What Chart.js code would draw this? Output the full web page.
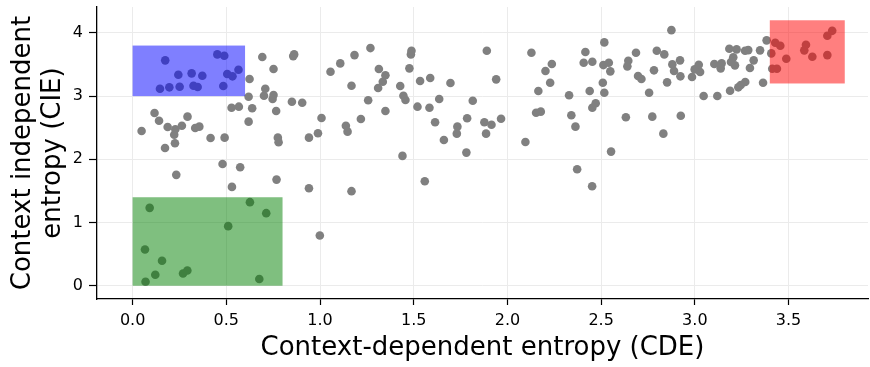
<!DOCTYPE html>
<html>
<head>
<meta charset="utf-8">
<script src="https://cdn.jsdelivr.net/npm/chart.js@4.4.1/dist/chart.umd.min.js"></script>
<style>
  html, body { margin: 0; padding: 0; background: #ffffff; }
  #wrap { width: 870px; height: 367px; }
</style>
</head>
<body>
<div id="wrap"><canvas id="chart" width="870" height="367"></canvas></div>
<script>
// Context-dependent entropy (CDE) per item
const cde = [
  0.174, 0.244, 0.315, 0.372, 0.325, 0.347, 0.251, 0.196, 0.146, 0.452,
  0.489, 0.505, 0.533, 0.565, 0.484, 0.692, 0.752, 0.624, 0.857, 0.862,
  1.056, 1.108, 1.184, 1.269, 1.314, 1.335, 1.349, 1.310, 1.168, 0.619,
  0.708, 0.701, 0.752, 0.747, 0.528, 0.567, 0.638, 0.766, 0.850, 0.905,
  0.619, 1.008, 1.257, 1.218, 1.349, 0.117, 0.141, 0.293, 0.263, 0.187,
  0.228, 0.334, 0.356, 0.222, 0.048, 0.416, 0.491, 0.775, 0.779, 0.941,
  0.989, 1.138, 1.147, 0.226, 0.173, 0.480, 0.574, 0.233, 0.530, 0.768,
  0.941, 1.168, 0.999, 0.091, 0.626, 0.713, 0.510, 0.066, 0.157, 0.121,
  0.269, 0.292, 0.069, 0.676, 1.428, 1.445, 1.456, 1.488, 1.485, 1.477,
  1.534, 1.588, 1.696, 1.520, 1.584, 1.636, 1.815, 1.614, 1.733, 1.730,
  1.661, 1.785, 1.877, 1.915, 1.886, 1.966, 1.890, 1.940, 2.128, 2.237,
  2.203, 2.228, 2.165, 2.153, 2.178, 2.096, 2.329, 2.341, 2.363, 2.416,
  2.407, 2.453, 2.439, 2.453, 2.471, 2.517, 2.512, 2.541, 2.549, 2.509,
  2.517, 2.632, 2.645, 2.640, 1.440, 1.781, 1.559, 2.372, 2.452, 2.553,
  2.875, 2.686, 2.797, 2.837, 2.880, 2.921, 2.782, 2.889, 2.923, 2.697,
  2.715, 2.852, 2.756, 2.773, 2.925, 2.832, 2.985, 2.999, 3.021, 3.028,
  3.047, 3.120, 3.104, 3.143, 3.138, 3.188, 3.184, 3.223, 3.193, 3.205,
  3.214, 3.268, 3.285, 3.232, 3.245, 3.269, 3.294, 3.314, 3.348, 3.383,
  3.364, 3.408, 3.429, 3.456, 3.488, 3.413, 3.438, 3.593, 3.584, 3.627,
  3.707, 3.707, 3.733
];

// Context independent entropy (CIE) per item, same order
const cie = [
  3.566, 3.338, 3.360, 3.322, 3.164, 3.144, 3.148, 3.139, 3.117, 3.660,
  3.638, 3.349, 3.313, 3.417, 3.160, 3.618, 3.428, 3.270, 3.633, 3.660,
  3.385, 3.518, 3.649, 3.760, 3.428, 3.227, 3.329, 3.128, 3.164, 2.991,
  3.117, 3.006, 3.017, 2.954, 2.817, 2.833, 2.807, 2.765, 2.912, 2.896,
  2.596, 2.654, 2.934, 2.638, 2.765, 2.733, 2.611, 2.675, 2.532, 2.512,
  2.476, 2.496, 2.517, 2.390, 2.449, 2.338, 2.343, 2.343, 2.270, 2.343,
  2.412, 2.532, 2.438, 2.254, 2.180, 1.927, 1.875, 1.754, 1.564, 1.679,
  1.543, 1.496, 0.795, 1.232, 1.322, 1.148, 0.943, 0.573, 0.395, 0.174,
  0.194, 0.242, 0.063, 0.106, 3.160, 3.006, 2.938, 3.717, 3.660, 3.439,
  3.239, 3.286, 3.207, 2.833, 2.817, 2.954, 2.927, 2.586, 2.517, 2.406,
  2.306, 2.649, 2.586, 2.548, 2.406, 2.643, 3.717, 3.265, 3.686, 3.507,
  3.397, 3.212, 3.081, 2.738, 2.754, 2.275, 3.013, 2.697, 2.517, 3.697,
  3.528, 3.543, 3.081, 2.817, 2.886, 3.850, 3.491, 3.528, 3.392, 3.212,
  3.054, 2.665, 3.559, 3.471, 2.054, 2.106, 1.654, 1.844, 1.575, 2.122,
  4.044, 3.686, 3.717, 3.660, 3.502, 3.566, 3.408, 3.397, 3.313, 3.318,
  3.270, 3.218, 3.054, 2.675, 2.690, 2.406, 3.302, 3.423, 3.496, 3.381,
  3.002, 3.002, 3.507, 3.518, 3.439, 3.085, 3.749, 3.739, 3.539, 3.613,
  3.487, 3.717, 3.728, 3.139, 3.175, 3.223, 3.444, 3.566, 3.724, 3.882,
  3.212, 3.676, 3.844, 3.796, 3.591, 3.433, 3.433, 3.812, 3.724, 3.622,
  3.649, 3.954, 4.033
];

// Highlighted regions: [x0, x1] on CDE, [y0, y1] on CIE
const regionNames = ['low CDE / high CIE', 'low CDE / low CIE', 'high CDE / high CIE'];
const regionCdeFrom = [0.0, 0.0, 3.4];
const regionCdeTo   = [0.6, 0.8, 3.8];
const regionCieFrom = [3.0, 0.0, 3.2];
const regionCieTo   = [3.8, 1.4, 4.2];

// Axis ticks
const cdeTicks = [0.0, 0.5, 1.0, 1.5, 2.0, 2.5, 3.0, 3.5];
const cdeTickLabels = ['0.0', '0.5', '1.0', '1.5', '2.0', '2.5', '3.0', '3.5'];
const cieTicks = [0, 1, 2, 3, 4];
const cieTickLabels = ['0', '1', '2', '3', '4'];

const regionFill = ['rgba(0, 0, 255, 0.5)', 'rgba(0, 128, 0, 0.5)', 'rgba(255, 0, 0, 0.5)'];

const points = cde.map((x, i) => ({ x: x, y: cie[i] }));

// Translucent rectangles drawn on top of the scatter points
const regionPlugin = {
  id: 'regions',
  afterDatasetsDraw(chart) {
    const { ctx, chartArea, scales } = chart;
    ctx.save();
    ctx.beginPath();
    ctx.rect(chartArea.left, chartArea.top, chartArea.right - chartArea.left, chartArea.bottom - chartArea.top);
    ctx.clip();
    regionNames.forEach((name, i) => {
      const x0 = scales.x.getPixelForValue(regionCdeFrom[i]);
      const x1 = scales.x.getPixelForValue(regionCdeTo[i]);
      const y0 = scales.y.getPixelForValue(regionCieFrom[i]);
      const y1 = scales.y.getPixelForValue(regionCieTo[i]);
      ctx.fillStyle = regionFill[i];
      ctx.fillRect(x0, y1, x1 - x0, y0 - y1);
    });
    ctx.restore();
  }
};

const FONT = 'DejaVu Sans';

new Chart(document.getElementById('chart'), {
  type: 'scatter',
  data: {
    datasets: [{
      data: points,
      backgroundColor: '#808080',
      borderWidth: 0,
      pointRadius: 4.3,
      pointHoverRadius: 4.3
    }]
  },
  options: {
    responsive: false,
    animation: false,
    devicePixelRatio: 1,
    layout: { autoPadding: false, padding: { left: 0, top: 7, right: 2, bottom: 0 } },
    plugins: {
      legend: { display: false },
      tooltip: { enabled: false }
    },
    scales: {
      x: {
        type: 'linear',
        min: -0.19,
        max: 3.924,
        afterBuildTicks(scale) { scale.ticks = cdeTicks.map(v => ({ value: v })); },
        afterFit(scale) {
          scale.height = 68;
          scale.paddingLeft = 0;
          scale.paddingRight = 0;
        },
        ticks: {
          autoSkip: false,
          maxRotation: 0,
          padding: 6,
          color: '#000000',
          font: { family: FONT, size: 16 },
          callback: (value) => cdeTickLabels[cdeTicks.indexOf(value)]
        },
        grid: {
          color: '#ebebeb',
          lineWidth: 1,
          drawTicks: true,
          tickLength: 6,
          tickColor: '#000000',
          tickWidth: 1.2
        },
        border: { display: true, color: '#000000', width: 1.3 },
        title: {
          display: true,
          text: 'Context-dependent entropy (CDE)',
          color: '#000000',
          font: { family: FONT, size: 26, lineHeight: 1.15 },
          padding: { top: 0, bottom: 4 }
        }
      },
      y: {
        type: 'linear',
        min: -0.21,
        max: 4.41,
        afterBuildTicks(scale) { scale.ticks = cieTicks.map(v => ({ value: v })); },
        afterFit(scale) {
          scale.width = 97;
          scale.paddingTop = 0;
          scale.paddingBottom = 0;
        },
        ticks: {
          autoSkip: false,
          padding: 6,
          color: '#000000',
          font: { family: FONT, size: 16 },
          callback: (value) => cieTickLabels[cieTicks.indexOf(value)]
        },
        grid: {
          color: '#ebebeb',
          lineWidth: 1,
          drawTicks: true,
          tickLength: 8,
          tickColor: '#000000',
          tickWidth: 1.2
        },
        border: { display: true, color: '#000000', width: 1.3 },
        title: {
          display: true,
          text: ['Context independent', 'entropy (CIE)'],
          color: '#000000',
          font: { family: FONT, size: 26, lineHeight: 1.15 },
          padding: { top: 8, bottom: 0 }
        }
      }
    }
  },
  plugins: [regionPlugin]
});
</script>
</body>
</html>
